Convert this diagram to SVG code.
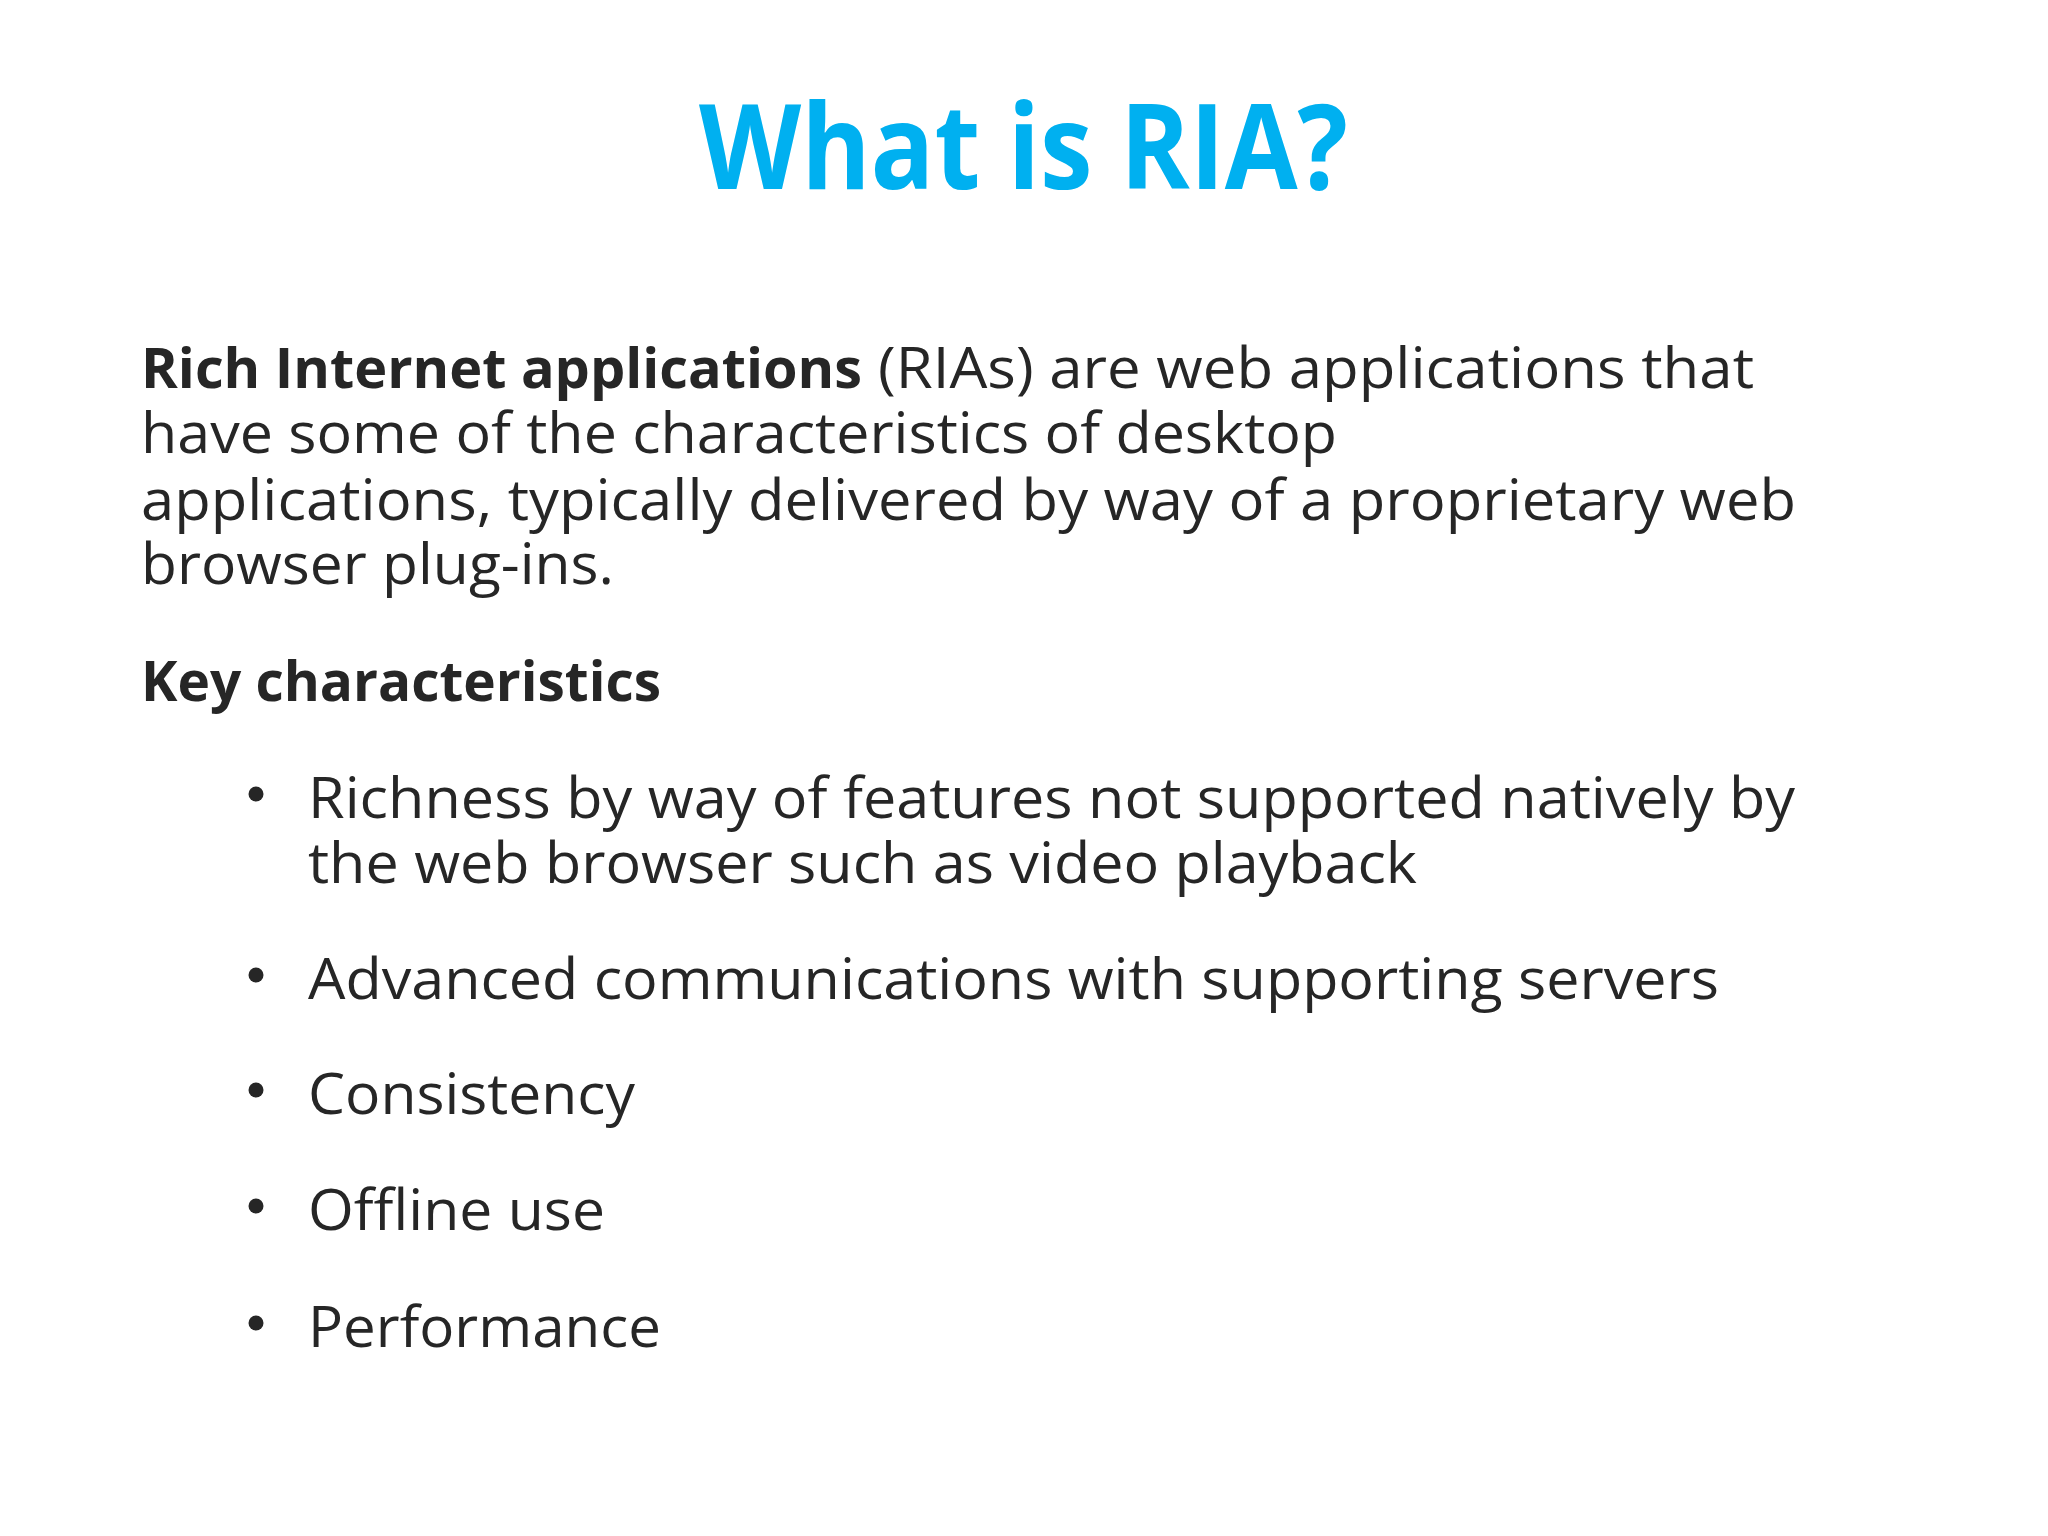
<svg xmlns="http://www.w3.org/2000/svg" width="2048" height="1536" viewBox="0 0 2048 1536">
<style>
.t{font-family:"Open Sans","Noto Sans",sans-serif;fill:#262626;font-size:56px}
.b{font-weight:bold}
.h{font-family:"Open Sans","Noto Sans",sans-serif;fill:#00b0f0;font-size:118px;font-weight:bold}
</style>
<rect width="2048" height="1536" fill="#ffffff"/>
<g id="title"><text class="h" x="699" y="189" textLength="649" lengthAdjust="spacingAndGlyphs">What is RIA?</text></g>
<g id="intro">
<text class="t b" x="141" y="388" textLength="721" lengthAdjust="spacingAndGlyphs">Rich Internet applications</text>
<text class="t" x="878" y="388" textLength="876" lengthAdjust="spacingAndGlyphs">(RIAs) are web applications that</text>
<text class="t" x="141" y="453" textLength="1196" lengthAdjust="spacingAndGlyphs">have some of the characteristics of desktop</text>
<text class="t" x="141" y="520" textLength="1655" lengthAdjust="spacingAndGlyphs">applications, typically delivered by way of a proprietary web</text>
<text class="t" x="141" y="584" textLength="473" lengthAdjust="spacingAndGlyphs">browser plug-ins.</text>
</g>
<g id="key"><text class="t b" x="141" y="701" textLength="520" lengthAdjust="spacingAndGlyphs">Key characteristics</text></g>
<g id="bullets">
<g fill="#262626"><circle cx="256" cy="794" r="7.5"/><circle cx="256" cy="975" r="7.5"/><circle cx="256" cy="1090" r="7.5"/><circle cx="256" cy="1206" r="7.5"/><circle cx="256" cy="1323" r="7.5"/></g>
<text class="t" x="308" y="818" textLength="1487" lengthAdjust="spacingAndGlyphs">Richness by way of features not supported natively by</text>
<text class="t" x="308" y="883" textLength="1109" lengthAdjust="spacingAndGlyphs">the web browser such as video playback</text>
<text class="t" x="308" y="999" textLength="1411" lengthAdjust="spacingAndGlyphs">Advanced communications with supporting servers</text>
<text class="t" x="308" y="1114" textLength="327" lengthAdjust="spacingAndGlyphs">Consistency</text>
<text class="t" x="308" y="1230" textLength="297" lengthAdjust="spacingAndGlyphs">Offline use</text>
<text class="t" x="308" y="1347" textLength="353" lengthAdjust="spacingAndGlyphs">Performance</text>
</g>
</svg>
